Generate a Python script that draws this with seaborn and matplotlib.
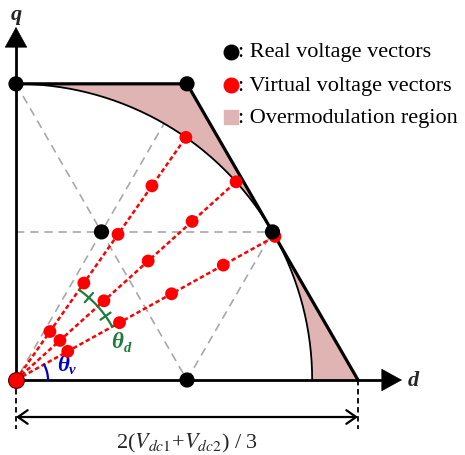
import numpy as np
import matplotlib
matplotlib.use("Agg")
import matplotlib.pyplot as plt
import seaborn as sns
import pandas as pd

sns.set_theme(style="white")
plt.rcParams['font.family'] = ['Liberation Serif', 'DejaVu Serif']
plt.rcParams['mathtext.fontset'] = 'stix'

# ---- data (units of 2(Vdc1+Vdc2)/3) ----
real_d = [0.0, 0.5, 0.25, 0.75, 0.5]
real_q = [0.866, 0.866, 0.433, 0.433, 0.0]
hex_d = [0.0, 0.5, 1.0]            # outer boundary vertices
hex_q = [0.866, 0.866, 0.0]
circle_r = 0.866
virtual_angle_deg = [29, 42, 55]
virtual_mag = [0.173, 0.346, 0.52, 0.693, 0.866]
grid_segments = [((0.0, 0.866), (0.5, 0.0)),
                 ((0.5, 0.866), (0.0, 0.0)),
                 ((0.0, 0.433), (0.75, 0.433)),
                 ((0.5, 0.0), (0.75, 0.433))]
legend_labels = [": Real voltage vectors", ": Virtual voltage vectors", ": Overmodulation region"]

fig = plt.figure(figsize=(4.65, 4.56), dpi=100)
ax = fig.add_axes([0, 0, 1, 1])
ax.set_xlim(-16/342, (465-16)/342)
ax.set_ylim(-(456-381)/342, 381/342)
ax.set_aspect('equal')
ax.axis('off')

grey = '#a8a8a8'
for (p0, p1) in grid_segments:
    ax.plot([p0[0], p1[0]], [p0[1], p1[1]], color=grey, lw=1.2,
            linestyle=(0, (5, 3.5)), zorder=1)

# overmodulation fill
t = np.linspace(0, np.pi/2, 200)
arc_d = circle_r*np.cos(t)
arc_q = circle_r*np.sin(t)
poly_d = list(hex_d) + [circle_r] + list(arc_d)
poly_q = list(hex_q) + [0.0] + list(arc_q)
ax.fill(poly_d, poly_q, color='#dfb4b2', lw=0, zorder=2)
ax.plot(arc_d, arc_q, color='black', lw=1.3, zorder=3)
ax.plot(hex_d, hex_q, color='black', lw=2.3, zorder=4, solid_joinstyle='miter')

# red dotted virtual vector lines
rows = []
for a in virtual_angle_deg:
    ar = np.deg2rad(a)
    ax.plot([0, circle_r*np.cos(ar)], [0, circle_r*np.sin(ar)], color='#ff0000',
            lw=1.8, linestyle=(0, (1.8, 1.1)), zorder=5)
    for m in virtual_mag:
        rows.append({'d': m*np.cos(ar), 'q': m*np.sin(ar)})
virt = pd.DataFrame(rows)

# axes arrows
ax.plot([0, 0], [0, (381-43)/342], color='black', lw=2.0, zorder=6)
ax.plot([0, (387-16)/342], [0, 0], color='black', lw=2.0, zorder=6)
ax.annotate('', xy=(0, (381-28)/342), xytext=(0, (381-45)/342),
            arrowprops=dict(arrowstyle='-|>,head_length=1.0,head_width=0.55', color='black',
                            lw=0.5, shrinkA=0, shrinkB=0, mutation_scale=14), zorder=7)
ax.annotate('', xy=((402-16)/342, 0), xytext=((385-16)/342, 0),
            arrowprops=dict(arrowstyle='-|>,head_length=1.0,head_width=0.55', color='black',
                            lw=0.5, shrinkA=0, shrinkB=0, mutation_scale=14), zorder=7)
ax.text(0, (381-15)/342, 'q', fontsize=16, fontstyle='italic', fontweight='bold',
        ha='center', va='center')
ax.text((413-16)/342, 0.0, 'd', fontsize=16, fontstyle='italic', fontweight='bold',
        ha='center', va='center')

# theta_v arc
rv = 32/342
tv = np.linspace(0, np.deg2rad(virtual_angle_deg[0]), 40)
ax.plot(rv*np.cos(tv), rv*np.sin(tv), color='#0000cc', lw=1.6, zorder=6)
ax.text((63-16)/342, (381-366)/342, 'θ', color='#0000cc', fontsize=16.5,
        fontstyle='italic', fontweight='bold', ha='center', va='center')
ax.text((72-16)/342, (381-371)/342, 'v', color='#0000cc', fontsize=10.5,
        fontstyle='italic', fontweight='bold', ha='center', va='center')

# theta_d arc
green = '#1e7b3c'
rd = 110/342
td = np.linspace(np.deg2rad(virtual_angle_deg[0]), np.deg2rad(virtual_angle_deg[2]), 60)
ax.plot(rd*np.cos(td), rd*np.sin(td), color=green, lw=1.6, zorder=6)
for k in range(2):
    am = np.deg2rad((virtual_angle_deg[k] + virtual_angle_deg[k+1])/2)
    ax.plot([(rd-0.018)*np.cos(am), (rd+0.018)*np.cos(am)],
            [(rd-0.018)*np.sin(am), (rd+0.018)*np.sin(am)], color=green, lw=1.6, zorder=6)
ax.text((117-16)/342, (381-343)/342, 'θ', color=green, fontsize=16.5,
        fontstyle='italic', fontweight='bold', ha='center', va='center')
ax.text((128-16)/342, (381-348)/342, 'd', color=green, fontsize=10.5,
        fontstyle='italic', fontweight='bold', ha='center', va='center')

# points
sns.scatterplot(data=virt, x='d', y='q', color='#ff0000', s=85, edgecolor='none',
                linewidth=0, zorder=8, ax=ax)
real = pd.DataFrame({'d': real_d, 'q': real_q})
sns.scatterplot(data=real, x='d', y='q', color='black', s=120, edgecolor='none',
                linewidth=0, zorder=9, ax=ax)
ax.scatter([0], [0], s=130, color='#ff0000', edgecolor='#550000', linewidth=0.8, zorder=10)

# legend (manual)
lx = (231-16)/342
ly = [(381-53)/342, (381-86)/342, (381-118)/342]
ax.scatter([lx], [ly[0]], s=110, color='black', zorder=9)
ax.scatter([lx], [ly[1]], s=110, color='#ff0000', zorder=9)
ax.scatter([lx], [ly[2]], s=90, marker='s', color='#dfb4b2', zorder=9)
for y, lab in zip(ly, legend_labels):
    ax.text((238-16)/342, y, lab, fontsize=16, ha='left', va='center', color='black')

# dimension line
yd = -(418-381)/342
for xx in [0.0, 1.0]:
    ax.plot([xx, xx], [0, -(430-381)/342], color='black', lw=1.3,
            linestyle=(0, (3, 2)), zorder=3)
ax.annotate('', xy=(1.0, yd), xytext=(0.0, yd),
            arrowprops=dict(arrowstyle='<->,head_length=0.5,head_width=0.35', color='black',
                            lw=1.6, shrinkA=0, shrinkB=0, mutation_scale=14))
ax.text(0.5, -(443-381)/342, r'2($V_{dc\mathrm{1}}$+$V_{dc\mathrm{2}}$) / 3', fontsize=16,
        ha='center', va='center')

fig.savefig('out.png', dpi=100)
